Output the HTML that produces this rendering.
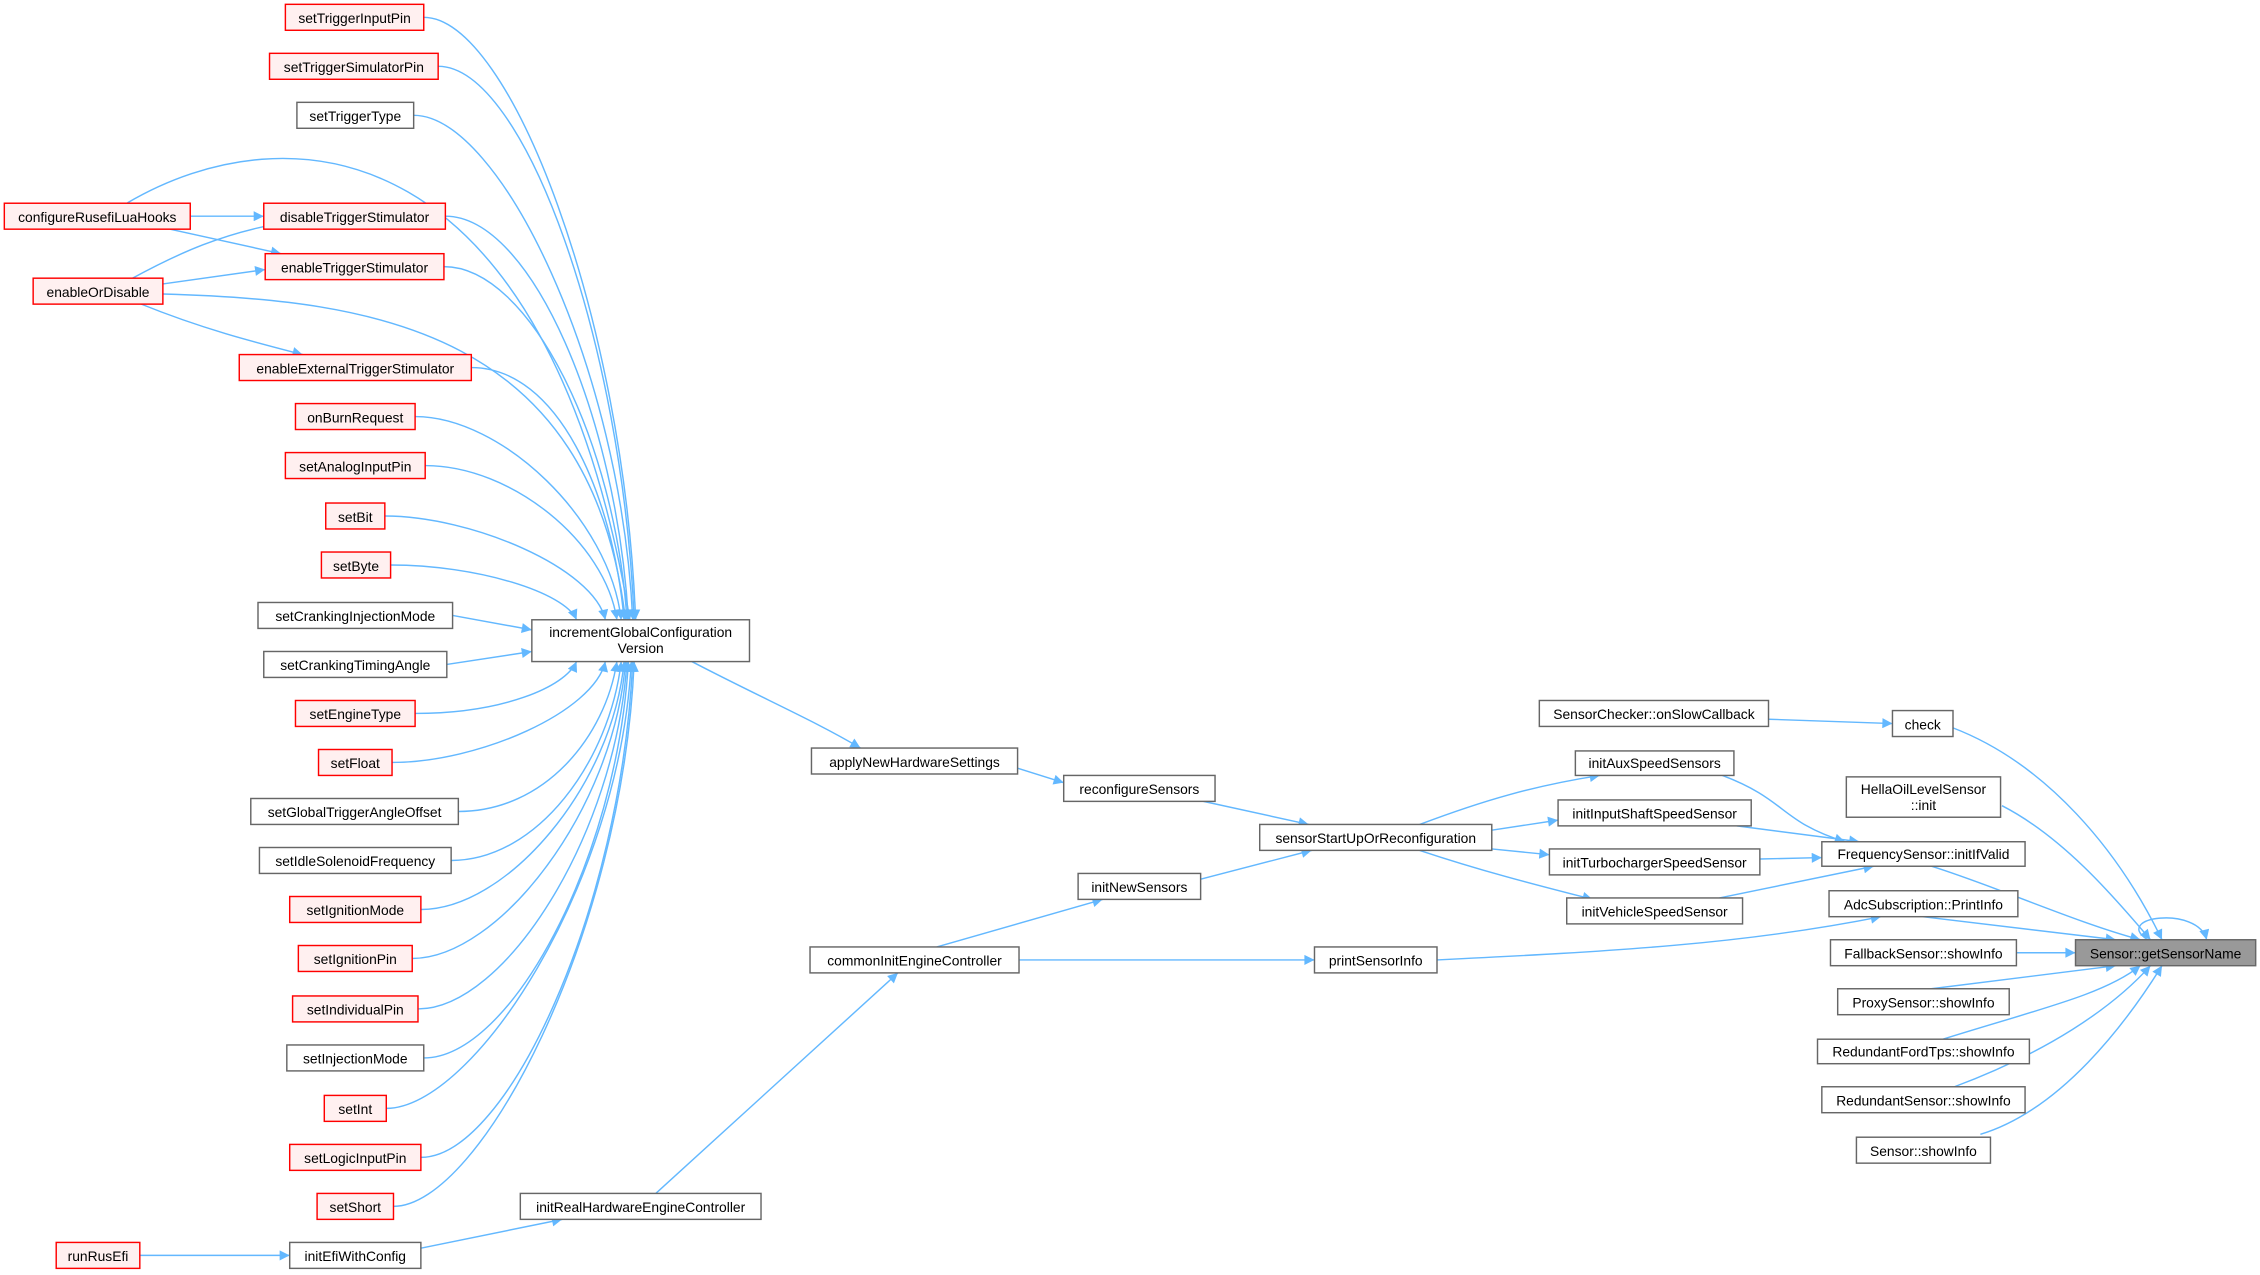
<!DOCTYPE html>
<html><head><meta charset="utf-8"><style>
html,body{margin:0;padding:0;background:#fff;}
svg{display:block}
text{font-family:"Liberation Sans","DejaVu Sans",sans-serif;font-size:9.6px;fill:#000;text-anchor:middle}
.g{fill:#fff;stroke:#666;stroke-width:1}
.r{fill:#fff0f0;stroke:#f00;stroke-width:1}
.s{fill:#999;stroke:#666;stroke-width:1}
path.e{fill:none;stroke:#63b8ff;stroke-width:1;marker-end:url(#a)}
</style></head><body>
<svg width="2260" height="1275" viewBox="0 0 1568 884.6" xmlns="http://www.w3.org/2000/svg">
<defs><marker id="a" viewBox="0 0 10 10" refX="10" refY="5" markerWidth="9" markerHeight="7" markerUnits="userSpaceOnUse" orient="auto"><path d="M0,0 L10,5 L0,10 z" fill="#63b8ff"/></marker></defs>
<g>
<path class="e" d="M294,12 C354,12 433,221 441,430"/>
<path class="e" d="M304,46 C364,46 432,238 440,430"/>
<path class="e" d="M287,80 C347,80 431,255 439,430"/>
<path class="e" d="M88,141 C200,75 380,90 437,430"/>
<path class="e" d="M309,150 C369,150 428,290 436,430"/>
<path class="e" d="M308,185 C368,185 427,307 435,430"/>
<path class="e" d="M113,204 C260,208 410,230 434,430"/>
<path class="e" d="M327,255 C387,255 425,342 433,430"/>
<path class="e" d="M288,289 C348,289 423,360 431,430"/>
<path class="e" d="M295,323 C355,323 420,376 428,430"/>
<path class="e" d="M267,358 C327,358 412,394 420,430"/>
<path class="e" d="M271,392 C331,392 392,411 400,430"/>
<path class="e" d="M314,427 L369,437"/>
<path class="e" d="M310,461 L369,452"/>
<path class="e" d="M288,495 C348,495 392,477 400,459"/>
<path class="e" d="M272,529 C332,529 412,494 420,459"/>
<path class="e" d="M318,563 C378,563 420,511 428,459"/>
<path class="e" d="M313,597 C373,597 423,528 431,459"/>
<path class="e" d="M292,631 C352,631 425,545 433,459"/>
<path class="e" d="M286,665 C346,665 426,562 434,459"/>
<path class="e" d="M290,700 C350,700 427,580 435,459"/>
<path class="e" d="M294,734 C354,734 428,597 436,459"/>
<path class="e" d="M268,769 C328,769 430,614 438,459"/>
<path class="e" d="M292,803 C352,803 431,631 439,459"/>
<path class="e" d="M273,837 C333,837 432,648 440,459"/>
<path class="e" d="M132,150 L183,150"/>
<path class="e" d="M118,159 L195,176"/>
<path class="e" d="M92,193 C125,175 155,162 194,155"/>
<path class="e" d="M113,197 L184,187"/>
<path class="e" d="M98,211 C140,228 175,237 210,246"/>
<path class="e" d="M480,459 C530,485 565,500 597,519"/>
<path class="e" d="M706,533 L738,543"/>
<path class="e" d="M835,556 L908,572"/>
<path class="e" d="M833,610 L910,590"/>
<path class="e" d="M650,657 L765,624"/>
<path class="e" d="M707,666 L912,666"/>
<path class="e" d="M455,828 L623,675"/>
<path class="e" d="M292,866 L390,846"/>
<path class="e" d="M97,871 L201,871"/>
<path class="e" d="M985,572 C1030,555 1065,545 1110,538"/>
<path class="e" d="M1035,576 L1081,569"/>
<path class="e" d="M1035,589 L1075,593"/>
<path class="e" d="M985,590 C1030,605 1070,615 1105,624"/>
<path class="e" d="M1195,538 C1240,555 1235,570 1280,584"/>
<path class="e" d="M1205,573 L1290,584"/>
<path class="e" d="M1221,596 L1264,595"/>
<path class="e" d="M1193,623 L1300,601"/>
<path class="e" d="M997,666 C1120,660 1210,655 1305,636"/>
<path class="e" d="M1227,499 L1313,502"/>
<path class="e" d="M1355,505 C1420,530 1470,590 1500,652"/>
<path class="e" d="M1389,559 C1430,580 1465,620 1492,652"/>
<path class="e" d="M1340,601 C1385,615 1440,640 1485,652"/>
<path class="e" d="M1334,636 L1468,652"/>
<path class="e" d="M1399,661 L1440,661"/>
<path class="e" d="M1340,686 L1468,670"/>
<path class="e" d="M1348,721 C1415,700 1460,690 1485,670"/>
<path class="e" d="M1356,754 C1420,730 1465,700 1492,670"/>
<path class="e" d="M1374,787 C1430,770 1475,710 1500,670"/>
<path class="e" d="M1490,652 C1465,636 1525,628 1531,652"/>
</g>
<g>
<rect class="r" x="198" y="3" width="96" height="18"/><text x="246" y="16">setTriggerInputPin</text>
<rect class="r" x="187" y="37" width="117" height="18"/><text x="245.5" y="50">setTriggerSimulatorPin</text>
<rect class="g" x="206" y="71" width="81" height="18"/><text x="246.5" y="84">setTriggerType</text>
<rect class="r" x="3" y="141" width="129" height="18"/><text x="67.5" y="154">configureRusefiLuaHooks</text>
<rect class="r" x="183" y="141" width="126" height="18"/><text x="246" y="154">disableTriggerStimulator</text>
<rect class="r" x="184" y="176" width="124" height="18"/><text x="246" y="189">enableTriggerStimulator</text>
<rect class="r" x="23" y="193" width="90" height="18"/><text x="68" y="206">enableOrDisable</text>
<rect class="r" x="166" y="246" width="161" height="18"/><text x="246.5" y="259">enableExternalTriggerStimulator</text>
<rect class="r" x="205" y="280" width="83" height="18"/><text x="246.5" y="293">onBurnRequest</text>
<rect class="r" x="198" y="314" width="97" height="18"/><text x="246.5" y="327">setAnalogInputPin</text>
<rect class="r" x="226" y="349" width="41" height="18"/><text x="246.5" y="362">setBit</text>
<rect class="r" x="223" y="383" width="48" height="18"/><text x="247" y="396">setByte</text>
<rect class="g" x="179" y="418" width="135" height="18"/><text x="246.5" y="431">setCrankingInjectionMode</text>
<rect class="g" x="183" y="452" width="127" height="18"/><text x="246.5" y="465">setCrankingTimingAngle</text>
<rect class="r" x="205" y="486" width="83" height="18"/><text x="246.5" y="499">setEngineType</text>
<rect class="r" x="221" y="520" width="51" height="18"/><text x="246.5" y="533">setFloat</text>
<rect class="g" x="174" y="554" width="144" height="18"/><text x="246" y="567">setGlobalTriggerAngleOffset</text>
<rect class="g" x="180" y="588" width="133" height="18"/><text x="246.5" y="601">setIdleSolenoidFrequency</text>
<rect class="r" x="201" y="622" width="91" height="18"/><text x="246.5" y="635">setIgnitionMode</text>
<rect class="r" x="207" y="656" width="79" height="18"/><text x="246.5" y="669">setIgnitionPin</text>
<rect class="r" x="203" y="691" width="87" height="18"/><text x="246.5" y="704">setIndividualPin</text>
<rect class="g" x="199" y="725" width="95" height="18"/><text x="246.5" y="738">setInjectionMode</text>
<rect class="r" x="225" y="760" width="43" height="18"/><text x="246.5" y="773">setInt</text>
<rect class="r" x="201" y="794" width="91" height="18"/><text x="246.5" y="807">setLogicInputPin</text>
<rect class="r" x="220" y="828" width="53" height="18"/><text x="246.5" y="841">setShort</text>
<rect class="r" x="39" y="862" width="58" height="18"/><text x="68" y="875">runRusEfi</text>
<rect class="g" x="201" y="862" width="91" height="18"/><text x="246.5" y="875">initEfiWithConfig</text>
<rect class="g" x="361" y="828" width="167" height="18"/><text x="444.5" y="841">initRealHardwareEngineController</text>
<rect class="g" x="369" y="430" width="151" height="29"/><text x="444.5" y="442">incrementGlobalConfiguration</text><text x="444.5" y="453">Version</text>
<rect class="g" x="563" y="519" width="143" height="18"/><text x="634.5" y="532">applyNewHardwareSettings</text>
<rect class="g" x="562" y="657" width="145" height="18"/><text x="634.5" y="670">commonInitEngineController</text>
<rect class="g" x="738" y="538" width="105" height="18"/><text x="790.5" y="551">reconfigureSensors</text>
<rect class="g" x="748" y="606" width="85" height="18"/><text x="790.5" y="619">initNewSensors</text>
<rect class="g" x="874" y="572" width="161" height="18"/><text x="954.5" y="585">sensorStartUpOrReconfiguration</text>
<rect class="g" x="912" y="657" width="85" height="18"/><text x="954.5" y="670">printSensorInfo</text>
<rect class="g" x="1068" y="486" width="159" height="18"/><text x="1147.5" y="499">SensorChecker::onSlowCallback</text>
<rect class="g" x="1313" y="493" width="42" height="18"/><text x="1334" y="506">check</text>
<rect class="g" x="1093" y="521" width="110" height="17"/><text x="1148" y="533">initAuxSpeedSensors</text>
<rect class="g" x="1081" y="555" width="134" height="18"/><text x="1148" y="568">initInputShaftSpeedSensor</text>
<rect class="g" x="1075" y="589" width="146" height="18"/><text x="1148" y="602">initTurbochargerSpeedSensor</text>
<rect class="g" x="1087" y="623" width="122" height="18"/><text x="1148" y="636">initVehicleSpeedSensor</text>
<rect class="g" x="1281" y="539" width="107" height="28"/><text x="1334.5" y="551">HellaOilLevelSensor</text><text x="1334.5" y="562">::init</text>
<rect class="g" x="1264" y="584" width="141" height="17"/><text x="1334.5" y="596">FrequencySensor::initIfValid</text>
<rect class="g" x="1269" y="618" width="131" height="18"/><text x="1334.5" y="631">AdcSubscription::PrintInfo</text>
<rect class="g" x="1270" y="652" width="129" height="18"/><text x="1334.5" y="665">FallbackSensor::showInfo</text>
<rect class="g" x="1275" y="686" width="119" height="18"/><text x="1334.5" y="699">ProxySensor::showInfo</text>
<rect class="g" x="1261" y="721" width="147" height="17"/><text x="1334.5" y="733">RedundantFordTps::showInfo</text>
<rect class="g" x="1264" y="754" width="141" height="18"/><text x="1334.5" y="767">RedundantSensor::showInfo</text>
<rect class="g" x="1288" y="789" width="93" height="18"/><text x="1334.5" y="802">Sensor::showInfo</text>
<rect class="s" x="1440" y="652" width="125" height="18"/><text x="1502.5" y="665">Sensor::getSensorName</text>
</g>
</svg>
</body></html>
